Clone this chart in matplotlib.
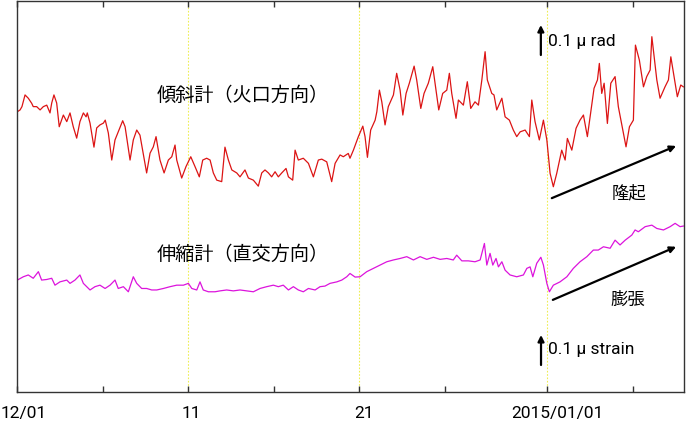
import numpy as np
import pandas as pd
import matplotlib
matplotlib.use("Agg")
import matplotlib.pyplot as plt
import matplotlib.dates as mdates
from matplotlib.transforms import ScaledTranslation

# tilt (crater direction), micro-radian relative to start, time in days since 2014-12-01
tilt_day = [0.02, 0.18, 0.29, 0.47, 0.66, 0.86, 0.95, 1.15, 1.35, 1.54, 1.74, 1.93, 2.03, 2.16, 2.32,
            2.47, 2.71, 2.91, 3.10, 3.29, 3.49, 3.68, 3.88, 4.04, 4.11, 4.27, 4.50, 4.66, 4.85, 5.05,
            5.16, 5.34, 5.54, 5.73, 5.92, 6.18, 6.32, 6.61, 6.80, 7.00, 7.19, 7.58, 7.78, 7.97, 8.13,
            8.36, 8.60, 8.85, 9.05, 9.24, 9.34, 9.63, 9.88, 10.16, 10.41, 10.66, 10.86, 11.09, 11.29,
            11.48, 11.68, 11.97, 12.16, 12.36, 12.56, 12.85, 13.04, 13.33, 13.53, 13.82, 14.11, 14.31,
            14.50, 14.70, 14.89, 15.09, 15.28, 15.48, 15.73, 15.87, 16.12, 16.26, 16.45, 16.74, 17.04,
            17.33, 17.62, 17.82, 18.11, 18.40, 18.60, 18.89, 19.08, 19.37, 19.47, 19.67, 19.96, 20.22,
            20.35, 20.49, 20.68, 20.94, 21.04, 21.19, 21.33, 21.52, 21.71, 22.01, 22.20, 22.40, 22.56,
            22.75, 22.94, 23.22, 23.37, 23.61, 23.80, 24.05, 24.31, 24.50, 24.66, 24.89, 25.13, 25.28,
            25.42, 25.67, 25.81, 26.10, 26.33, 26.53, 26.78, 26.98, 27.18, 27.37, 27.50, 27.76, 27.89,
            28.05, 28.35, 28.54, 28.79, 29.02, 29.22, 29.42, 29.71, 29.96, 30.10, 30.29, 30.54, 30.78,
            30.98, 31.17, 31.36, 31.56, 31.85, 32.05, 32.18, 32.44, 32.69, 32.92, 33.12, 33.35, 33.55,
            33.74, 33.94, 34.05, 34.19, 34.33, 34.52, 34.72, 34.97, 35.16, 35.42, 35.61, 35.81, 36.04,
            36.16, 36.39, 36.63, 36.82, 37.02, 37.12, 37.41, 37.60, 37.89, 38.09, 38.23, 38.42, 38.61,
            38.81, 38.96]
tilt_val = [0.000, 0.006, 0.017, 0.056, 0.045, 0.028, 0.017, 0.017, 0.006, 0.017, 0.022, -0.004, 0.029,
            0.056, 0.029, -0.050, -0.011, -0.033, -0.004, -0.050, -0.088, -0.033, -0.004, -0.017,
            -0.004, -0.038, -0.118, -0.054, -0.044, -0.038, -0.028, -0.071, -0.161, -0.094, -0.067,
            -0.030, -0.050, -0.161, -0.094, -0.061, -0.078, -0.204, -0.138, -0.117, -0.083, -0.161,
            -0.204, -0.161, -0.150, -0.111, -0.161, -0.221, -0.183, -0.150, -0.183, -0.217, -0.161,
            -0.155, -0.161, -0.204, -0.228, -0.233, -0.118, -0.161, -0.194, -0.204, -0.217, -0.194,
            -0.221, -0.228, -0.248, -0.204, -0.194, -0.204, -0.217, -0.200, -0.217, -0.204, -0.189,
            -0.217, -0.228, -0.128, -0.161, -0.155, -0.172, -0.217, -0.161, -0.158, -0.167, -0.233,
            -0.172, -0.144, -0.150, -0.139, -0.155, -0.128, -0.083, -0.048, -0.083, -0.152, -0.061,
            -0.028, 0.000, 0.072, 0.033, -0.044, 0.017, 0.056, 0.128, 0.072, -0.011, 0.061, 0.095,
            0.152, 0.106, 0.011, 0.061, 0.095, 0.150, 0.072, 0.006, 0.061, 0.072, 0.128, 0.061,
            -0.022, 0.039, 0.022, 0.100, 0.011, 0.033, 0.022, 0.106, 0.200, 0.106, 0.061, 0.056,
            0.006, 0.045, -0.017, -0.028, -0.061, -0.083, -0.067, -0.061, -0.083, 0.039, -0.033,
            -0.094, -0.028, -0.094, -0.205, -0.250, -0.205, -0.128, -0.161, -0.089, -0.128, -0.055,
            -0.028, -0.011, -0.083, 0.000, 0.078, 0.106, 0.161, 0.061, 0.095, -0.039, 0.095, 0.117,
            0.017, -0.061, -0.117, -0.050, -0.028, 0.222, 0.172, 0.083, 0.117, 0.139, 0.250, 0.106,
            0.045, 0.083, 0.106, 0.183, 0.117, 0.050, 0.089, 0.083]

# extensometer (perpendicular), micro-strain relative to start
strain_day = [0.02, 0.37, 0.66, 0.95, 1.25, 1.44, 1.74, 2.03, 2.22, 2.51, 2.91, 3.10, 3.39, 3.68, 3.88,
              4.27, 4.56, 4.85, 5.15, 5.44, 5.73, 5.92, 6.22, 6.51, 6.80, 7.00, 7.29, 7.58, 7.88, 8.17,
              8.56, 8.95, 9.34, 9.73, 10.02, 10.22, 10.51, 10.70, 10.89, 11.19, 11.58, 11.87, 12.26,
              12.65, 13.04, 13.43, 13.82, 14.21, 14.60, 14.99, 15.28, 15.57, 15.87, 16.16, 16.45,
              16.74, 17.04, 17.43, 17.72, 18.01, 18.30, 18.70, 18.99, 19.28, 19.47, 19.77, 20.06,
              20.45, 20.84, 21.23, 21.62, 22.01, 22.40, 22.79, 23.18, 23.57, 23.96, 24.35, 24.74,
              25.13, 25.51, 25.71, 26.01, 26.39, 26.78, 27.08, 27.23, 27.33, 27.47, 27.66, 27.82,
              28.01, 28.15, 28.35, 28.54, 28.83, 29.22, 29.61, 29.81, 30.00, 30.16, 30.39, 30.63,
              30.78, 30.98, 31.13, 31.36, 31.75, 32.15, 32.53, 32.92, 33.32, 33.70, 33.99, 34.29,
              34.68, 34.97, 35.26, 35.56, 35.95, 36.14, 36.33, 36.73, 37.12, 37.41, 37.80, 38.19,
              38.48, 38.77, 38.96]
strain_val = [0.000, 0.011, 0.017, 0.006, 0.028, 0.000, 0.002, 0.006, -0.017, -0.006, 0.000, -0.011,
              0.000, 0.017, -0.011, -0.033, -0.022, -0.017, -0.028, -0.017, 0.000, -0.028, -0.022,
              -0.039, 0.011, -0.011, -0.028, -0.028, -0.033, -0.033, -0.028, -0.022, -0.017, -0.017,
              -0.011, -0.028, -0.033, -0.006, -0.033, -0.039, -0.039, -0.036, -0.033, -0.036, -0.033,
              -0.036, -0.039, -0.028, -0.022, -0.017, -0.022, -0.017, -0.033, -0.022, -0.033, -0.039,
              -0.028, -0.033, -0.022, -0.020, -0.011, -0.006, 0.000, 0.011, 0.022, 0.010, 0.011,
              0.028, 0.039, 0.050, 0.061, 0.067, 0.072, 0.078, 0.067, 0.078, 0.069, 0.076, 0.069,
              0.072, 0.067, 0.083, 0.064, 0.064, 0.061, 0.067, 0.100, 0.122, 0.050, 0.089, 0.050,
              0.072, 0.044, 0.061, 0.033, 0.017, 0.011, 0.017, 0.039, 0.044, 0.011, 0.056, 0.076,
              0.050, -0.011, -0.039, -0.017, -0.006, 0.011, 0.039, 0.061, 0.078, 0.100, 0.100, 0.111,
              0.106, 0.133, 0.117, 0.133, 0.150, 0.167, 0.161, 0.178, 0.183, 0.172, 0.167, 0.178,
              0.189, 0.178, 0.180]

start = pd.Timestamp("2014-12-01")
tick_dates = ["2014-12-01", "2014-12-06", "2014-12-11", "2014-12-16", "2014-12-21",
              "2014-12-26", "2015-01-01", "2015-01-06"]
tick_labels = ["12/01", "", "11", "", "21", "", "2015/01/01", ""]
guide_dates = ["2014-12-11", "2014-12-21", "2015-01-01"]


def to_time(days):
    return start + pd.to_timedelta(np.array(days), unit="D")


def day(d):
    return mdates.date2num(start + pd.Timedelta(days=d))


plt.rcParams["font.family"] = ["Roboto", "Noto Sans CJK JP"]
jp = ["Noto Sans CJK JP", "DejaVu Sans"]

fig = plt.figure(figsize=(6.88, 4.23), dpi=100)
ax = fig.add_axes([17 / 688, 31 / 423, 667 / 688, 391 / 423])

tilt_offset = 0.934
strain_offset = 0.373

ax.plot(to_time(tilt_day), np.array(tilt_val) + tilt_offset, color="#dc1414", lw=0.9)
ax.plot(to_time(strain_day), np.array(strain_val) + strain_offset, color="#dc14dc", lw=0.9)

for g in guide_dates:
    ax.axvline(pd.Timestamp(g), color="#eeee55", lw=0.8, ls=(0, (1.5, 1.5)), zorder=0)

ax.set_xlim(day(0), day(39))
ax.set_ylim(0, 1.303)
ax.set_yticks([])

ax.set_xticks([pd.Timestamp(t) for t in tick_dates])
ax.set_xticklabels(tick_labels, fontsize=12.5)
ax.tick_params(axis="x", direction="in", length=4, width=1, top=True, pad=10, color="#333333")
shifts = {"12/01": 7, "11": 3, "21": 5, "2015/01/01": 10}
for lab in ax.get_xticklabels():
    dx = shifts.get(lab.get_text(), 0)
    lab.set_transform(lab.get_transform() + ScaledTranslation(dx / 100, 0, fig.dpi_scale_trans))

for s in ax.spines.values():
    s.set_color("#333333")
    s.set_linewidth(1)

# labels
ax.text(day(8.19), 0.987, "傾斜計（火口方向）", family=jp, fontsize=13.8, va="center", ha="left")
ax.text(day(8.19), 0.46, "伸縮計（直交方向）", family=jp, fontsize=13.8, va="center", ha="left")
ax.text(day(34.78), 0.663, "隆起", family=jp, fontsize=12.5, va="center", ha="left")
ax.text(day(34.68), 0.307, "膨張", family=jp, fontsize=12.5, va="center", ha="left")

# scale bars
arrow = dict(arrowstyle="-|>", color="black", lw=1.6, mutation_scale=9, shrinkA=0, shrinkB=0)
ax.annotate("", xy=(day(30.63), 1.223), xytext=(day(30.63), 1.123), arrowprops=arrow)
ax.text(day(31.05), 1.167, "0.1 μ rad", fontsize=12.5, va="center", ha="left")
ax.annotate("", xy=(day(30.64), 0.19), xytext=(day(30.64), 0.09), arrowprops=arrow)
ax.text(day(31.05), 0.14, "0.1 μ strain", fontsize=12.5, va="center", ha="left")

# trend arrows
ax.annotate("", xy=(day(38.54), 0.82), xytext=(day(31.27), 0.646), arrowprops=arrow)
ax.annotate("", xy=(day(38.54), 0.484), xytext=(day(31.33), 0.307), arrowprops=arrow)

fig.savefig("out.png", dpi=100)
